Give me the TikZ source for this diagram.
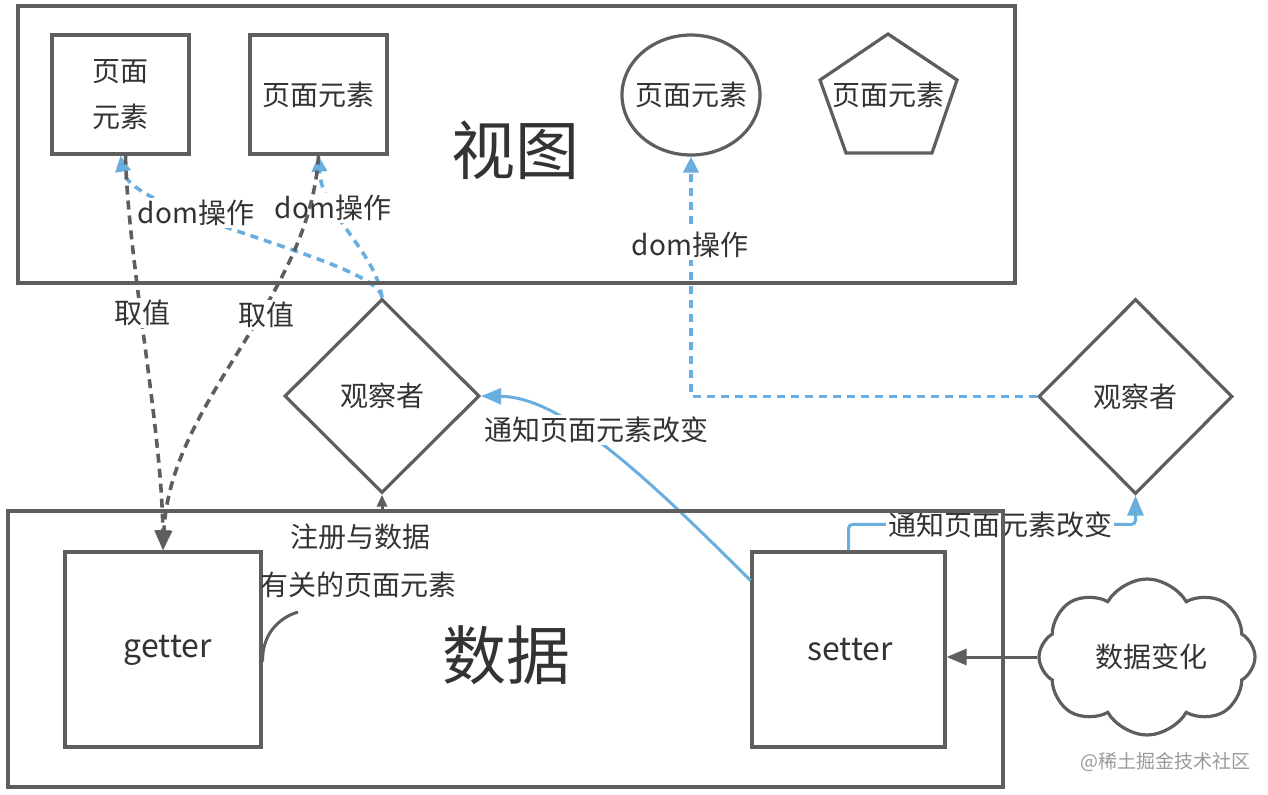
\documentclass[tikz,border=0pt]{standalone}
\usepackage{fontspec}
\setmainfont{Noto Sans CJK SC}
\usetikzlibrary{shapes.geometric,shapes.symbols,arrows.meta,calc}
\definecolor{ln}{HTML}{5E5E5E}
\definecolor{bl}{HTML}{6AAEE0}
\definecolor{tx}{HTML}{333333}
\pgfdeclarelayer{front}
\pgfsetlayers{main,front}
\begin{document}
\begin{tikzpicture}[x=0.5pt,y=-0.5pt,
  every node/.style={text=tx, font=\fontsize{14}{17}\selectfont},
  shp/.style={draw=ln, line width=1.6pt, inner sep=0pt},
  lbl/.style={fill=white, inner sep=1pt},
  gdash/.style={draw=ln, line width=1.8pt, dash pattern=on 4.5pt off 3pt, -{Triangle[length=10pt,width=8pt]}},
  bdash/.style={draw=bl, line width=1.8pt, dash pattern=on 4pt off 3pt, -{Triangle[length=8pt,width=7.5pt]}},
  bsolid/.style={draw=bl, line width=1.5pt, -{Triangle[length=10pt,width=8pt]}},
  gsolid/.style={draw=ln, line width=1.5pt}
  ]
\useasboundingbox (0,0) rectangle (1268,794);

% containers (drawn on top layer)
\begin{pgfonlayer}{front}
\node[shp, minimum width=498.5pt, minimum height=138.5pt] (view) at (516.5,144.5) {};
\node[shp, minimum width=497.5pt, minimum height=138pt] (data) at (505.5,649) {};
\end{pgfonlayer}

\node[font=\fontsize{32}{36}\selectfont] (vt) at (515,150) {视图};
\node[font=\fontsize{32}{36}\selectfont] (dt) at (506,655) {数据};

% page elements
\node[shp, minimum width=68.5pt, minimum height=59.5pt, align=center, font=\fontsize{14}{23}\selectfont] (e1) at (120.5,94.5) {页面\\元素};
\node[shp, minimum width=68.5pt, minimum height=59.5pt] (e2) at (318.5,94.5) {页面元素};
\node[shp, ellipse, minimum width=69pt, minimum height=60pt] (e3) at (691,95) {};
\node (e3t) at (e3.center) {页面元素};
\node (e4) at (888,95) {页面元素};
\draw[ln, line width=1.6pt, line join=miter] (888,34) -- (957,80) -- (932,153) -- (846,153) -- (820,80) -- cycle;

% observers
\node[shp, diamond, minimum width=97.5pt, minimum height=97pt] (o1) at (382,396) {观察者};
\node[shp, diamond, minimum width=97pt, minimum height=97.5pt] (o2) at (1135.5,396.5) {观察者};

% getter / setter
\node[shp, minimum width=98pt, minimum height=97.5pt] (getter) at (163,649.5) {};
\node[font=\fontsize{16}{19}\selectfont] (gt) at (168,650) {getter};
\node[shp, minimum width=96.5pt, minimum height=97.5pt] (setter) at (848.5,649.5) {};
\node[font=\fontsize{16}{19}\selectfont] (st) at (850,650) {setter};

% cloud
\node[shp, cloud, cloud puffs=8, cloud puff arc=120, aspect=1.4, minimum width=108pt, minimum height=78pt] (cloud) at (1147,657) {};
\node (ct) at (1151,657) {数据变化};

% blue dashed dom operations
\draw[bdash] (o1.north) .. controls (378,260) and (130,215) .. (e1.south);
\draw[bdash] (o1.north) .. controls (375,250) and (322,215) .. (e2.south);
\draw[bdash] (o2.west) -| (e3.south);
\node[lbl] (d1) at (196,213) {dom操作};
\node[lbl] (d2) at (333,208) {dom操作};
\node[lbl] (d3) at (690,245) {dom操作};

% blue solid notifications
\draw[bsolid] ([yshift=-15pt]setter.north west) .. controls (640,470) and (560,397) .. (o1.east);
\node[lbl] (n1) at (596,430) {通知页面元素改变};
\draw[bsolid, rounded corners=2pt] (setter.north) -- ++(0,-26) -| (o2.south);
\node[lbl] (n2) at (1000,525) {通知页面元素改变};

% gray dashed value reads
\draw[gdash] ([xshift=2.5pt]e1.south) .. controls (128,260) and (162,430) .. (getter.north);
\draw[gdash] (e2.south) .. controls (310,300) and (170,400) .. (getter.north);
\node[lbl] (q1) at (142,313) {取值};
\node[lbl] (q2) at (266,315) {取值};

% register
\draw[gsolid, -{Triangle[length=6pt,width=5pt]}] (o1.south |- data.north) -- (o1.south);
\node (reg) at (360,537) {注册与数据};

% note
\node (note) at (358,585) {有关的页面元素};
\coordinate (noteend) at (298,612);
\draw[gsolid] ([yshift=-6pt]getter.east) .. controls (262,635) and (278,618) .. (noteend);

% data change
\draw[gsolid, -{Triangle[length=10pt,width=8pt]}] (cloud.west) -- (cloud.west -| setter.east);

% watermark
\node[text=black!40, font=\fontsize{9.5}{11}\selectfont] (wm) at (1165,762) {@稀土掘金技术社区};
\end{tikzpicture}
\end{document}
